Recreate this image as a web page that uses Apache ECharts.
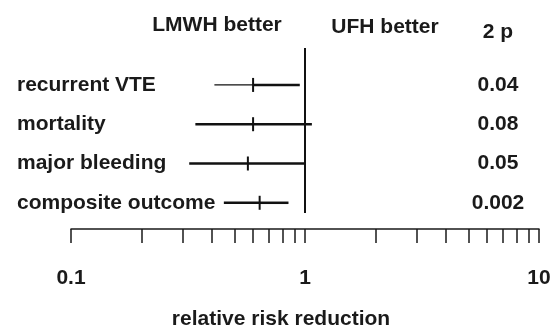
<!DOCTYPE html>
<html>
<head>
<meta charset="utf-8">
<script src="https://cdn.jsdelivr.net/npm/echarts@6/dist/echarts.min.js"></script>
<style>
  html, body { margin: 0; padding: 0; background: #fff; }
  #chart { width: 556px; height: 329px; }
</style>
</head>
<body>
<div id="chart"></div>
<script>
// outcomes, top to bottom
const categories = ['recurrent VTE', 'mortality', 'major bleeding', 'composite outcome']
const pointEst = [0.60, 0.60, 0.57, 0.64]
const lowerCI = [0.41, 0.34, 0.32, 0.45]
const upperCI = [0.95, 1.07, 1.0, 0.85]
const pValues = ['0.04', '0.08', '0.05', '0.002']
const tickValues = [0.1, 0.2, 0.3, 0.4, 0.5, 0.6, 0.7, 0.8, 0.9, 1, 2, 3, 4, 5, 6, 7, 8, 9, 10]
const labelValues = [0.1, 1, 10]

const rows = categories.map((c, i) => i + 1)
const font = "'Liberation Sans', Arial, sans-serif"
const ink = '#1a1a1a'

const chart = echarts.init(document.getElementById('chart'))

var option = {
  animation: false,
  grid: { left: 71, right: 17, top: 48, bottom: 116 },
  xAxis: {
    type: 'log',
    logBase: 10,
    min: 0.1,
    max: 10,
    offset: 16,
    axisLine: { show: true, lineStyle: { color: ink, width: 1.5 } },
    axisTick: {
      show: true,
      customValues: tickValues,
      length: 14,
      lineStyle: { color: ink, width: 1.5 }
    },
    axisLabel: {
      customValues: labelValues,
      margin: 39,
      color: ink,
      fontSize: 21,
      fontWeight: 'bold',
      fontFamily: font
    },
    splitLine: { show: false }
  },
  yAxis: [{
    type: 'value',
    inverse: true,
    min: 0.06,
    max: 4.26,
    axisLine: { show: false },
    axisTick: { show: false },
    splitLine: { show: false },
    axisLabel: {
      customValues: rows,
      formatter: v => categories[v - 1],
      align: 'left',
      margin: 54,
      color: ink,
      fontSize: 21,
      fontWeight: 'bold',
      fontFamily: font
    }
  }, {
    type: 'value',
    position: 'right',
    inverse: true,
    min: 0.06,
    max: 4.26,
    axisLine: { show: false },
    axisTick: { show: false },
    splitLine: { show: false },
    axisLabel: {
      customValues: rows,
      formatter: v => pValues[v - 1],
      inside: true,
      align: 'center',
      margin: 41,
      color: ink,
      fontSize: 21,
      fontWeight: 'bold',
      fontFamily: font
    }
  }],
  graphic: [
    { type: 'text', x: 217, y: 25, style: { text: 'LMWH better', align: 'center', verticalAlign: 'middle', fill: ink, font: 'bold 21px ' + font } },
    { type: 'text', x: 385, y: 27, style: { text: 'UFH better', align: 'center', verticalAlign: 'middle', fill: ink, font: 'bold 21px ' + font } },
    { type: 'text', x: 498, y: 32, style: { text: '2 p', align: 'center', verticalAlign: 'middle', fill: ink, font: 'bold 21px ' + font } },
    { type: 'text', x: 281, y: 319, style: { text: 'relative risk reduction', align: 'center', verticalAlign: 'middle', fill: ink, font: 'bold 21px ' + font } }
  ],
  series: [{
    type: 'custom',
    data: categories.map((c, i) => [lowerCI[i], pointEst[i], upperCI[i], rows[i]]),
    encode: { x: [0, 1, 2], y: 3 },
    renderItem: function(params, api) {
      const lo = api.coord([api.value(0), api.value(3)])
      const pt = api.coord([api.value(1), api.value(3)])
      const hi = api.coord([api.value(2), api.value(3)])
      // the first row's lower arm is drawn thin in the original
      const thinLower = params.dataIndex === 0
      return {
        type: 'group',
        children: [{
          type: 'line',
          shape: { x1: lo[0], y1: lo[1], x2: pt[0], y2: pt[1] },
          style: { stroke: '#111', lineWidth: thinLower ? 1.3 : 2.5 }
        }, {
          type: 'line',
          shape: { x1: pt[0], y1: pt[1], x2: hi[0], y2: hi[1] },
          style: { stroke: '#111', lineWidth: 2.5 }
        }, {
          type: 'line',
          shape: { x1: pt[0], y1: pt[1] - 7, x2: pt[0], y2: pt[1] + 7 },
          style: { stroke: '#111', lineWidth: 2 }
        }]
      }
    },
    markLine: {
      silent: true,
      symbol: 'none',
      label: { show: false },
      lineStyle: { color: '#111', width: 2, type: 'solid' },
      data: [{ xAxis: 1 }]
    }
  }]
}

chart.setOption(option)
</script>
</body>
</html>
